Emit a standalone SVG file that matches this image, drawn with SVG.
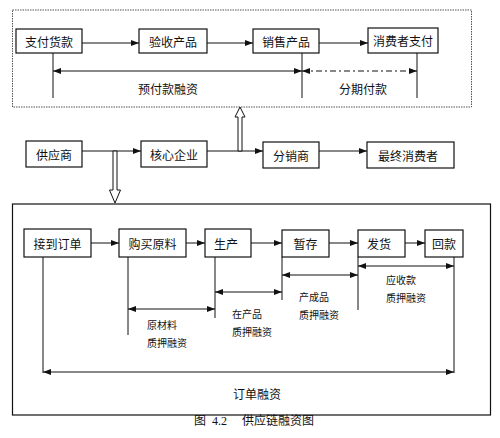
<svg xmlns="http://www.w3.org/2000/svg" width="500" height="438" viewBox="0 0 500 438">
<style>
.box{fill:#fff;stroke:#111;stroke-width:1.2}
.lbl{font-family:"Noto Sans CJK SC","Noto Sans",sans-serif;font-size:12px;fill:#111;text-anchor:middle;dominant-baseline:central}
.sm{font-family:"Noto Sans CJK SC","Noto Sans",sans-serif;font-size:10px;fill:#111}
.ln{stroke:#111;stroke-width:1;fill:none}
.hollow{fill:#fff;stroke:#111;stroke-width:1}
.cap{font-family:"Liberation Serif","Noto Sans CJK SC",serif;font-size:12px;fill:#111}
</style>
<defs>
<marker id="ah" viewBox="0 0 8 6" refX="8" refY="3" markerWidth="8" markerHeight="6" markerUnits="userSpaceOnUse" orient="auto-start-reverse">
<path d="M0,0 L8,3 L0,6 Z" fill="#111"/>
</marker>
</defs>
<rect width="500" height="438" fill="#fff"/>

<!-- frames -->
<rect id="top-frame" x="12.5" y="10" width="459" height="97" fill="none" stroke="#555" stroke-width="1" stroke-dasharray="1.5,1"/>
<rect id="bottom-frame" x="12.5" y="204" width="478" height="211" fill="none" stroke="#111" stroke-width="1.2"/>

<g id="connectors">
<!-- top row -->
<line class="ln" x1="82" y1="43" x2="139" y2="43" marker-end="url(#ah)"/>
<line class="ln" x1="207" y1="43" x2="253" y2="43" marker-end="url(#ah)"/>
<line class="ln" x1="319" y1="43" x2="368" y2="43" marker-end="url(#ah)"/>
<line class="ln" x1="53" y1="53" x2="53" y2="98"/>
<line class="ln" x1="302" y1="53" x2="302" y2="98"/>
<line class="ln" x1="417" y1="53" x2="417" y2="98"/>
<line class="ln" x1="53" y1="71" x2="302" y2="71" marker-start="url(#ah)" marker-end="url(#ah)"/>
<line class="ln" x1="302" y1="71" x2="417" y2="71" stroke-dasharray="6,3,2,3" marker-start="url(#ah)" marker-end="url(#ah)"/>
<!-- middle row -->
<line class="ln" x1="82" y1="151" x2="141" y2="151" marker-end="url(#ah)"/>
<line class="ln" x1="207" y1="151" x2="263" y2="151" marker-end="url(#ah)"/>
<line class="ln" x1="319" y1="151" x2="367" y2="151" marker-end="url(#ah)"/>
<polygon class="hollow" points="238,151 238,117 235,117 240,107 245,117 242,117 242,151"/>
<polygon class="hollow" points="113,151 113,190 109.5,190 115,203 120.5,190 117,190 117,151"/>
<!-- bottom row -->
<line class="ln" x1="91" y1="243" x2="119" y2="243" marker-end="url(#ah)"/>
<line class="ln" x1="186" y1="243" x2="205" y2="243" marker-end="url(#ah)"/>
<line class="ln" x1="251" y1="243" x2="282" y2="243" marker-end="url(#ah)"/>
<line class="ln" x1="329" y1="243" x2="358" y2="243" marker-end="url(#ah)"/>
<line class="ln" x1="405" y1="243" x2="425" y2="243" marker-end="url(#ah)"/>
<line class="ln" x1="43" y1="257" x2="43" y2="373"/>
<line class="ln" x1="128" y1="257" x2="128" y2="335"/>
<line class="ln" x1="215" y1="257" x2="215" y2="318"/>
<line class="ln" x1="282" y1="257" x2="282" y2="300"/>
<line class="ln" x1="358" y1="257" x2="358" y2="310"/>
<line class="ln" x1="454" y1="257" x2="454" y2="373"/>
<line class="ln" x1="128" y1="309" x2="215" y2="309" marker-start="url(#ah)" marker-end="url(#ah)"/>
<line class="ln" x1="215" y1="292" x2="282" y2="292" marker-start="url(#ah)" marker-end="url(#ah)"/>
<line class="ln" x1="282" y1="275" x2="358" y2="275" marker-start="url(#ah)" marker-end="url(#ah)"/>
<line class="ln" x1="358" y1="266" x2="454" y2="266" marker-start="url(#ah)" marker-end="url(#ah)"/>
<line class="ln" x1="43" y1="372" x2="454" y2="372" marker-start="url(#ah)" marker-end="url(#ah)"/>
</g>

<!-- top nodes -->
<g id="n-zhifu"><rect class="box" x="16" y="29" width="66" height="24"/><text class="lbl" x="49" y="41">支付货款</text></g>
<g id="n-yanshou"><rect class="box" x="139" y="29" width="68" height="24"/><text class="lbl" x="173" y="41">验收产品</text></g>
<g id="n-xiaoshou"><rect class="box" x="253" y="29" width="66" height="24"/><text class="lbl" x="286" y="41">销售产品</text></g>
<g id="n-xiaofeizhe"><rect class="box" x="368" y="28" width="70" height="25"/><text class="lbl" x="403" y="40.5">消费者支付</text></g>

<!-- middle nodes -->
<g id="n-gongying"><rect class="box" x="26" y="141" width="56" height="26"/><text class="lbl" x="54" y="154">供应商</text></g>
<g id="n-hexin"><rect class="box" x="141" y="141" width="66" height="26"/><text class="lbl" x="174" y="154">核心企业</text></g>
<g id="n-fenxiao"><rect class="box" x="263" y="142" width="56" height="26"/><text class="lbl" x="291" y="155">分销商</text></g>
<g id="n-zuizhong"><rect class="box" x="367" y="142" width="87" height="26"/><text class="lbl" x="408" y="155">最终消费者</text></g>

<!-- bottom nodes -->
<g id="n-jiedao"><rect class="box" x="24" y="229" width="67" height="28"/><text class="lbl" x="57.5" y="243">接到订单</text></g>
<g id="n-goumai"><rect class="box" x="119" y="229" width="67" height="28"/><text class="lbl" x="152.5" y="243">购买原料</text></g>
<g id="n-shengchan"><rect class="box" x="205" y="229" width="46" height="28"/><text class="lbl" x="226" y="243">生产</text></g>
<g id="n-zancun"><rect class="box" x="282" y="230" width="47" height="27"/><text class="lbl" x="305.5" y="243.5">暂存</text></g>
<g id="n-fahuo"><rect class="box" x="358" y="230" width="47" height="27"/><text class="lbl" x="379" y="243.5">发货</text></g>
<g id="n-huikuan"><rect class="box" x="425" y="230" width="38" height="27"/><text class="lbl" x="444" y="243.5">回款</text></g>

<!-- labels -->
<g id="labels">
<text class="lbl" x="168" y="88">预付款融资</text>
<text class="lbl" x="363" y="88">分期付款</text>
<text class="sm" x="147" y="329">原材料</text>
<text class="sm" x="147" y="347">质押融资</text>
<text class="sm" x="232" y="318">在产品</text>
<text class="sm" x="232" y="336">质押融资</text>
<text class="sm" x="299" y="301">产成品</text>
<text class="sm" x="299" y="319">质押融资</text>
<text class="sm" x="386" y="284">应收款</text>
<text class="sm" x="386" y="302">质押融资</text>
<text class="lbl" x="257" y="393">订单融资</text>
<text class="cap" y="425"><tspan x="194">图</tspan><tspan x="212">4.2</tspan><tspan x="242">供应链融资图</tspan></text>
</g>
</svg>
